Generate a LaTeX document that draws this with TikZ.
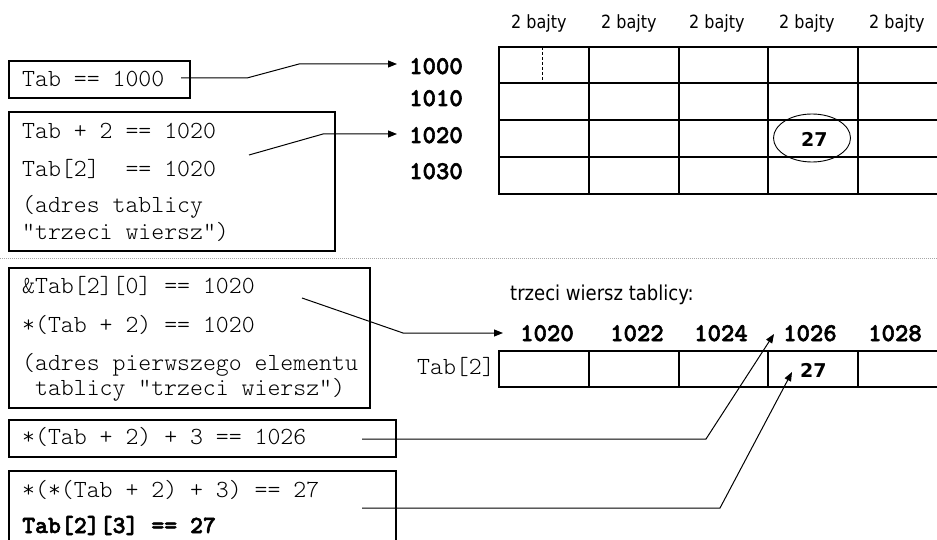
\documentclass[tikz,border=0pt]{standalone}
\usepackage{fontspec}
\newfontfamily\codefont{lmmonolt10-regular.otf}
\newfontfamily\codebold[FakeBold=2.2]{lmmonolt10-bold.otf}
\newfontfamily\lblfont[FakeStretch=0.88]{DejaVu Sans}
\newfontfamily\valfont{DejaVu Sans}
\usetikzlibrary{arrows.meta,shapes.geometric}

\tikzset{
  codebox/.style={draw, line width=1.3pt, anchor=north west, inner sep=0pt, outer sep=0pt},
  code/.style={anchor=base west, inner sep=0pt, font=\fontsize{24.6}{27}\selectfont\codefont},
  boldcode/.style={code, font=\fontsize{24.6}{27}\selectfont\codebold},
  addr/.style={anchor=base west, inner sep=0pt, font=\fontsize{25.5}{28}\selectfont\codebold},
  bytelbl/.style={anchor=base west, inner sep=0pt, font=\fontsize{18.2}{22}\selectfont\lblfont},
  val/.style={anchor=base west, inner sep=0pt, font=\fontsize{19}{22}\selectfont\valfont\bfseries},
  gridline/.style={line width=1.8pt, line cap=rect},
  conn/.style={line width=1pt},
  ptr/.style={conn, -{Triangle[length=9pt,width=7pt]}},
  sepline/.style={line width=0.8pt, gray!70, dash pattern=on 1pt off 1pt},
}

\begin{document}
\begin{tikzpicture}[x=1pt,y=-1pt]
\useasboundingbox (0,0) rectangle (937,540);

% ---- whole array: 4 rows x 5 columns ----
\foreach \lx/\txt in {511/a,601/b,689/c,779/d,869/e}
  \node[bytelbl] (w\txt) at (\lx,29) {2 bajty};
\foreach \x in {499,589,679,768,858} \draw[gridline] (\x,47) -- (\x,194);
\foreach \y in {47,83,120,157,194} \draw[gridline] (499,\y) -- (950,\y);
\draw[line width=1pt, dash pattern=on 3pt off 2pt] (542,47) -- (542,83);
\node[ellipse, draw, line width=0.9pt, minimum width=77pt, minimum height=48pt, inner sep=0pt] (e27) at (812,138) {};
\node[val] (v27a) at (801,147) {27};

% row addresses
\node[addr] (a1000) at (409,74) {1000};
\node[addr] (a1010) at (409,106) {1010};
\node[addr] (a1020) at (409,143) {1020};
\node[addr] (a1030) at (409,179) {1030};

% ---- upper expression boxes ----
\node[codebox, minimum width=181pt, minimum height=37pt] (b1) at (9,61) {};
\node[code] (c11) at (22,87) {Tab == 1000};

\node[codebox, minimum width=326pt, minimum height=139pt] (b2) at (9,112) {};
\node[code] (c21) at (22,139) {Tab + 2 == 1020};
\node[code] (c22) at (22,177) {Tab[2]\ \ == 1020};
\node[code] (c23) at (22,213) {(adres tablicy};
\node[code] (c24) at (22,240) {"trzeci wiersz")};

\coordinate (s1) at (181,78);
\coordinate (t1) at (397,64);
\draw[ptr] (s1) -- (247,78) -- (299,64) -- (t1);
\coordinate (s2) at (249,155);
\coordinate (t2) at (397,134);
\draw[ptr] (s2) -- (323,134) -- (t2);

% ---- separator ----
\draw[sepline] (0,258) -- (937,258);

% ---- third row ----
\node[bytelbl, font=\fontsize{20.5}{24}\selectfont\lblfont] (rowlbl) at (510,300) {trzeci wiersz tablicy:};
\node[addr] (r1020) at (520,341) {1020};
\node[addr] (r1022) at (610,341) {1022};
\node[addr] (r1024) at (694,341) {1024};
\node[addr] (r1026) at (783,341) {1026};
\node[addr] (r1028) at (868,341) {1028};
\node[code] (tab2) at (417,374) {Tab[2]};
\foreach \x in {499,589,679,768,858} \draw[gridline] (\x,351) -- (\x,387);
\draw[gridline] (499,351) -- (950,351);
\draw[gridline] (499,387) -- (950,387);
\node[val] (v27b) at (800,377) {27};

% ---- lower expression boxes ----
\node[codebox, minimum width=361pt, minimum height=140pt] (b3) at (9,268) {};
\node[code] (c31) at (22,293) {\&Tab[2][0] == 1020};
\node[code] (c32) at (22,332) {*(Tab + 2) == 1020};
\node[code] (c33) at (22,370) {(adres pierwszego elementu};
\node[code] (c34) at (22,395) {\ tablicy "trzeci wiersz")};

\node[codebox, minimum width=387pt, minimum height=37pt] (b4) at (9,420) {};
\node[code] (c41) at (22,444) {*(Tab + 2) + 3 == 1026};

\node[codebox, minimum width=387pt, minimum height=80pt] (b5) at (9,471) {};
\node[code] (c51) at (22,497) {*(*(Tab + 2) + 3) == 27};
\node[boldcode] (c52) at (22,533) {Tab[2][3] == 27};

\coordinate (s3) at (302,298);
\coordinate (t3) at (503,333);
\draw[ptr] (s3) -- (403,333) -- (t3);
\coordinate (s4) at (362,439);
\coordinate (t4) at (774,334);
\draw[ptr] (s4) -- (706,439) -- (t4);
\coordinate (s5) at (362,508);
\coordinate (t5) at (792,372);
\draw[ptr] (s5) -- (720,508) -- (t5);
\end{tikzpicture}
\end{document}
